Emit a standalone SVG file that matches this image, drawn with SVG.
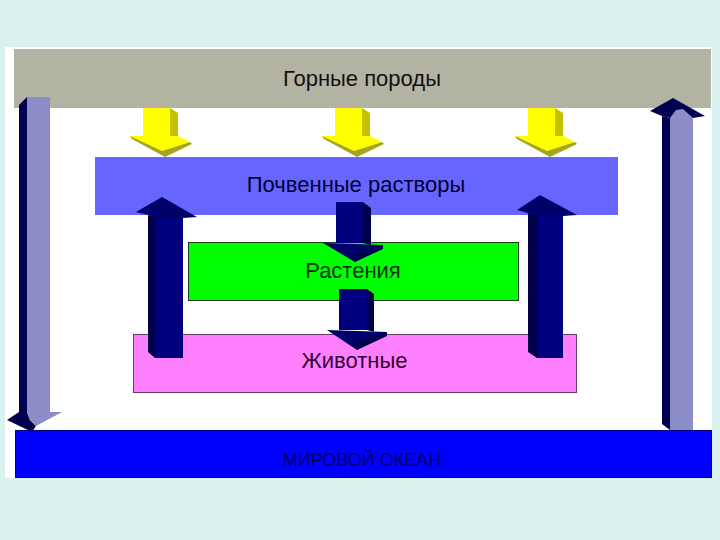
<svg xmlns="http://www.w3.org/2000/svg" width="720" height="540" viewBox="0 0 720 540">
<style>
.lbl{font-family:"Liberation Sans",Arial,sans-serif;font-size:22px;text-anchor:middle}
.yf{fill:#FFFF00}
.ys{fill:#C2C200}
.yb{fill:#A6A61A}
.nf{fill:#00007E}
.ns{fill:#00004A}
.nh{fill:#00006A}
.gf{fill:#8C8CC8}
.gs{fill:#000050}
</style>
<rect x="0" y="0" width="720" height="540" fill="#DAF2EF"/>
<rect x="5" y="47" width="707" height="431" fill="#FFFFFF"/>

<g id="rocks">
<rect x="14" y="49" width="697" height="59" fill="#B3B3A3"/>
<text class="lbl" x="362" y="86" fill="#111111">Горные породы</text>
</g>
<g id="soil">
<rect x="95" y="157" width="523" height="58" fill="#6666FF"/>
<text class="lbl" x="356" y="192" fill="#000033">Почвенные растворы</text>
</g>
<g id="plants">
<rect x="188.5" y="242.5" width="330" height="58" fill="#00FF00" stroke="#1A3A1A" stroke-width="1"/>
<text class="lbl" x="353" y="278" fill="#003300">Растения</text>
</g>
<g id="animals">
<rect x="133.5" y="334.5" width="443" height="58" fill="#FF80FF" stroke="#6A3A6A" stroke-width="1"/>
<text class="lbl" x="354.5" y="368" fill="#330033">Животные</text>
</g>
<g id="ocean">
<rect x="15.5" y="430.5" width="696" height="47" fill="#0000FF" stroke="#000080" stroke-width="1"/>
<text class="lbl" x="362" y="466" fill="#000060" style="font-size:18px">МИРОВОЙ ОКЕАН</text>
</g>

<g id="connectors">
<g id="arrow-left-down">
<polygon class="gs" points="19,105 27,97 27,413 19,413"/>
<rect class="gf" x="27" y="97" width="23" height="316"/>
<polygon class="gs" points="7,420 19,412 27,412 30,420 36,426 32,432"/>
<polygon class="gf" points="27,412 62,412 36,426 30,420"/>
</g>
<g id="arrow-right-up">
<polygon class="gs" points="662,116 670,118 670,430 662,424"/>
<rect class="gf" x="670" y="118" width="23" height="312"/>
<polygon class="gs" points="650,111 673,98 705,116 693,118 670,118 662,116"/>
<polygon class="gf" points="670,118 693,118 683,109 676,110"/>
</g>
<g id="yellow-1">
<rect class="yf" x="143" y="108" width="27" height="28"/>
<polygon class="ys" points="170,108 178,113 178,138 170,136"/>
<polygon class="yf" points="130,136 178,136 190,142 162,151"/>
<polygon class="yb" points="130,136 162,151 190,142 192,144 165,157 132,139"/>
</g>
<g id="yellow-2">
<rect class="yf" x="335" y="108" width="27" height="28"/>
<polygon class="ys" points="362,108 370,113 370,138 362,136"/>
<polygon class="yf" points="322,136 370,136 382,142 354,151"/>
<polygon class="yb" points="322,136 354,151 382,142 384,144 357,157 324,139"/>
</g>
<g id="yellow-3">
<rect class="yf" x="528" y="108" width="27" height="28"/>
<polygon class="ys" points="555,108 563,113 563,138 555,136"/>
<polygon class="yf" points="515,136 563,136 575,142 547,151"/>
<polygon class="yb" points="515,136 547,151 575,142 577,144 550,157 517,139"/>
</g>
<g id="navy-up-left">
<polygon class="ns" points="148,215 155,217 155,358 148,352"/>
<rect class="nf" x="155" y="217" width="28" height="141"/>
<polygon class="nh" points="136,212 162,197 197,217 183,218 155,218 148,215"/>
</g>
<g id="navy-up-right">
<polygon class="ns" points="528,213 537,215 537,358 528,352"/>
<rect class="nf" x="537" y="215" width="26" height="143"/>
<polygon class="nh" points="517,210 540,195 577,215 563,216 537,216 528,213"/>
</g>
<g id="navy-down-1">
<rect class="nf" x="336" y="202" width="27" height="41"/>
<polygon class="ns" points="363,202 371,208 371,245 363,243"/>
<polygon class="nh" points="323,243 383,245 355,262"/>
<polygon class="ns" points="352,256 383,245 383,249 355,262"/>
</g>
<g id="navy-down-2">
<rect class="nf" x="339" y="289" width="28" height="41"/>
<polygon class="ns" points="367,289 374,294 374,332 367,330"/>
<polygon class="nh" points="327,330 387,332 357,350"/>
<polygon class="ns" points="354,344 387,332 387,336 357,350"/>
</g>
</g>
</svg>
